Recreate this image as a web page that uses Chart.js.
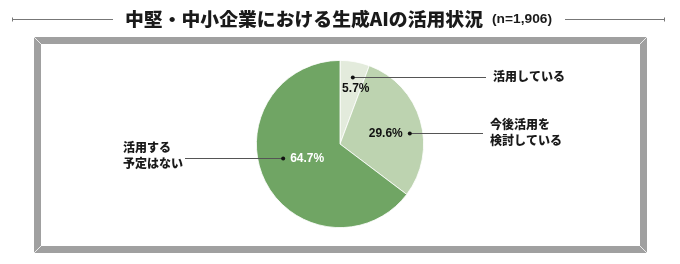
<!DOCTYPE html>
<html><head><meta charset="utf-8">
<script src="https://cdn.jsdelivr.net/npm/chart.js@4/dist/chart.umd.min.js"></script>
<style>html,body{margin:0;padding:0;background:#fff}#wrap{width:680px;height:264px;position:relative}</style>
</head><body><div id="wrap"><canvas id="c" width="680" height="264"></canvas></div>
<script>
const categories = ["活用している", "今後活用を検討している", "活用する予定はない"];
const labelLines = [["活用している"], ["今後活用を", "検討している"], ["活用する", "予定はない"]];
const shares = [5.7, 29.6, 64.7];
const colors = ["#e3ebdc", "#bdd3b0", "#70a564"];
const titleText = "中堅・中小企業における生成AIの活用状況";
const sampleText = "(n=1,906)";

const JP = '"Noto Sans CJK JP", "Noto Sans", sans-serif';
const LAT = '"Liberation Sans", Arial, sans-serif';

// annotation layout (relative to pie geometry)
const dotSpec = [ {off: 0.5, r: 0.82}, {off: 7.3, r: 0.845}, {off: 12.7, r: 0.70} ];
const leaderSpec = [
  {lineEnd: 146, textX: 153, align: 'left', lineDy: [0]},
  {lineEnd: 143, textX: 150, align: 'left', lineDy: [-9, 7]},
  {lineEnd: -155, textX: -217, align: 'left', lineDy: [-10, 6]}
];

const decor = {
  id: 'decor',
  beforeDraw(chart) {
    const ctx = chart.ctx;
    ctx.save();
    ctx.fillStyle = '#fff';
    ctx.fillRect(0, 0, chart.width, chart.height);
    // frame
    const L = 34, T = 37, R = 647, B = 253, th = 7;
    ctx.fillStyle = '#a0a0a0';
    ctx.fillRect(L, T, R - L, B - T);
    ctx.fillStyle = '#fff';
    ctx.fillRect(L + th, T + th, R - L - 2 * th, B - T - 2 * th);
    ctx.strokeStyle = '#ffffff';
    ctx.lineWidth = 0.8;
    ctx.beginPath();
    ctx.moveTo(L, T); ctx.lineTo(L + th, T + th);
    ctx.moveTo(R, T); ctx.lineTo(R - th, T + th);
    ctx.moveTo(L, B); ctx.lineTo(L + th, B - th);
    ctx.moveTo(R, B); ctx.lineTo(R - th, B - th);
    ctx.stroke();
    // title
    ctx.fillStyle = '#1a1a1a';
    ctx.textBaseline = 'middle';
    ctx.font = '900 18px ' + JP;
    const w = ctx.measureText(titleText).width;
    const target = 358;
    ctx.save();
    ctx.translate(125, 19);
    ctx.scale(target / w, 1);
    ctx.textAlign = 'left';
    ctx.fillText(titleText, 0, 0);
    ctx.restore();
    ctx.font = 'bold 12px ' + LAT;
    const w2 = ctx.measureText(sampleText).width;
    ctx.save();
    ctx.translate(492, 20);
    ctx.scale(60 / w2, 1);
    ctx.fillText(sampleText, 0, 0);
    ctx.restore();
    // title rules
    ctx.strokeStyle = '#777';
    ctx.lineWidth = 1;
    ctx.beginPath();
    ctx.moveTo(12, 19.5); ctx.lineTo(113, 19.5);
    ctx.moveTo(565, 19.5); ctx.lineTo(665, 19.5);
    ctx.moveTo(12.5, 17.5); ctx.lineTo(12.5, 21.5);
    ctx.moveTo(664.5, 17.5); ctx.lineTo(664.5, 21.5);
    ctx.stroke();
    ctx.restore();
  },
  afterDatasetsDraw(chart) {
    const ctx = chart.ctx;
    const meta = chart.getDatasetMeta(0);
    ctx.save();
    meta.data.forEach((arc, i) => {
      const p = arc.getProps(['x', 'y', 'startAngle', 'endAngle', 'outerRadius'], true);
      const mid = (p.startAngle + p.endAngle) / 2 + dotSpec[i].off * Math.PI / 180;
      const dx = p.x + Math.cos(mid) * p.outerRadius * dotSpec[i].r;
      const dy = p.y + Math.sin(mid) * p.outerRadius * dotSpec[i].r;
      const ls = leaderSpec[i];
      // leader line
      ctx.strokeStyle = '#555';
      ctx.lineWidth = 1;
      ctx.beginPath();
      ctx.moveTo(dx, Math.round(dy) + 0.5);
      ctx.lineTo(p.x + ls.lineEnd, Math.round(dy) + 0.5);
      ctx.stroke();
      ctx.fillStyle = '#111';
      ctx.beginPath();
      ctx.arc(dx, Math.round(dy) + 0.5, 2, 0, Math.PI * 2);
      ctx.fill();
      // percent label
      const txt = shares[i].toFixed(1) + '%';
      ctx.font = 'bold 12px ' + LAT;
      ctx.textBaseline = 'middle';
      if (i === 0) {
        ctx.fillStyle = '#111'; ctx.textAlign = 'center';
        ctx.fillText(txt, dx + 3, dy + 12);
      } else if (i === 1) {
        ctx.fillStyle = '#111'; ctx.textAlign = 'right';
        ctx.fillText(txt, dx - 7, dy + 1);
      } else {
        ctx.fillStyle = '#fff'; ctx.textAlign = 'left';
        ctx.fillText(txt, dx + 7, dy + 1);
      }
      // category label
      ctx.fillStyle = '#1a1a1a';
      ctx.textAlign = ls.align;
      ctx.font = '900 12px ' + JP;
      labelLines[i].forEach((line, k) => {
        ctx.fillText(line, p.x + ls.textX, dy + ls.lineDy[k]);
      });
    });
    ctx.restore();
  }
};

new Chart(document.getElementById('c'), {
  type: 'pie',
  data: {
    labels: categories,
    datasets: [{
      data: shares,
      backgroundColor: colors,
      borderColor: '#ffffff',
      borderWidth: 0.8
    }]
  },
  options: {
    responsive: false,
    animation: false,
    devicePixelRatio: 1,
    layout: { padding: { left: 256, right: 256, top: 60, bottom: 36 } },
    plugins: { legend: { display: false }, tooltip: { enabled: false } }
  },
  plugins: [decor]
});
</script>
</body></html>
